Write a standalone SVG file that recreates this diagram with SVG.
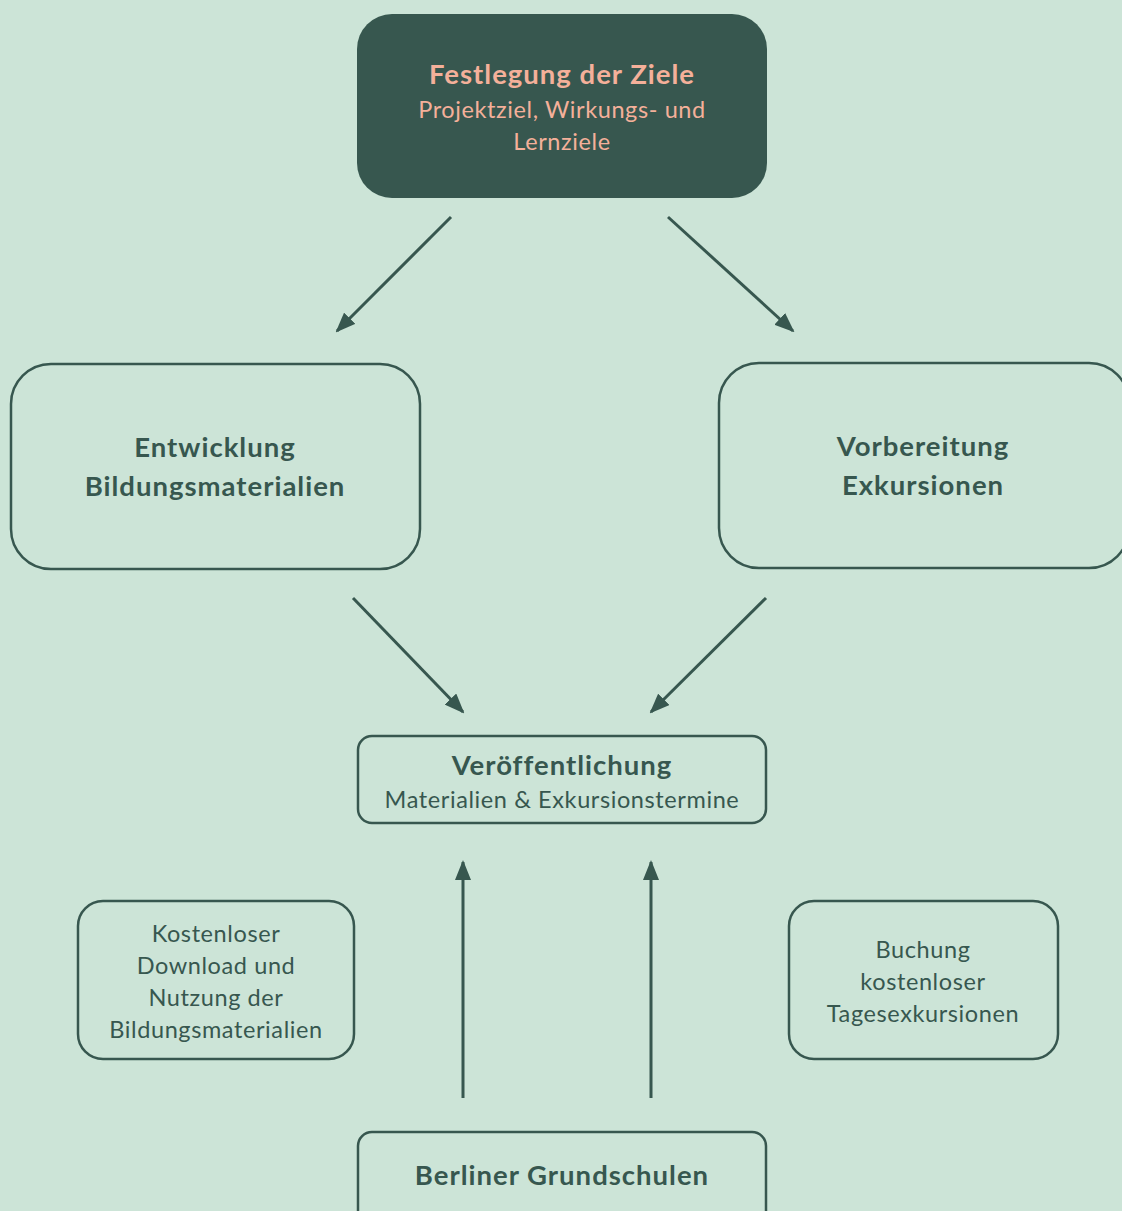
<svg xmlns="http://www.w3.org/2000/svg" width="1122" height="1211" viewBox="0 0 1122 1211">
<style>
.bg{fill:#cce4d7}
.box{fill:#cce4d7;stroke:#37574f;stroke-width:2.5}
.dark{fill:#37574f}
.t{font-family:Lato,"Open Sans","Liberation Sans",sans-serif;text-anchor:middle;fill:#37574f}
.b{font-weight:bold;font-size:27.5px;letter-spacing:1px}
.n{font-size:23.5px;letter-spacing:0.6px}
.s{fill:#f4b09a}
.c{stroke:#37574f;stroke-width:3;fill:none;marker-end:url(#ah)}
</style>
<defs>
<marker id="ah" markerUnits="userSpaceOnUse" markerWidth="20" markerHeight="16" refX="18" refY="8" orient="auto" viewBox="0 0 20 16">
<path d="M0,0 L20,8 L0,16 Z" fill="#37574f"/>
</marker>
</defs>
<rect class="bg" x="0" y="0" width="1122" height="1211"/>
<g id="connectors">
<line class="c" x1="451" y1="217" x2="337" y2="331"/>
<line class="c" x1="668" y1="217" x2="793" y2="331"/>
<line class="c" x1="353" y1="598" x2="463" y2="712"/>
<line class="c" x1="766" y1="598" x2="651" y2="712"/>
<line class="c" x1="463" y1="1098" x2="463" y2="862"/>
<line class="c" x1="651" y1="1098" x2="651" y2="862"/>
</g>
<g id="ziele">
<rect class="dark" x="357" y="14" width="410" height="184" rx="35"/>
<text class="t b s" x="562" y="84">Festlegung der Ziele</text>
<text class="t n s" x="562" y="118">Projektziel, Wirkungs- und</text>
<text class="t n s" x="562" y="150">Lernziele</text>
</g>
<g id="entwicklung">
<rect class="box" x="11" y="364" width="409" height="205" rx="40"/>
<text class="t b" x="215" y="457">Entwicklung</text>
<text class="t b" x="215" y="496">Bildungsmaterialien</text>
</g>
<g id="vorbereitung">
<rect class="box" x="719" y="363" width="410" height="205" rx="40"/>
<text class="t b" x="923" y="456">Vorbereitung</text>
<text class="t b" x="923" y="495">Exkursionen</text>
</g>
<g id="veroeffentlichung">
<rect class="box" x="358" y="736" width="408" height="87" rx="14"/>
<text class="t b" x="562" y="775">Veröffentlichung</text>
<text class="t n" x="562" y="808">Materialien &amp; Exkursionstermine</text>
</g>
<g id="download">
<rect class="box" x="78" y="901" width="276" height="158" rx="25"/>
<text class="t n" x="216" y="942">Kostenloser</text>
<text class="t n" x="216" y="974">Download und</text>
<text class="t n" x="216" y="1006">Nutzung der</text>
<text class="t n" x="216" y="1038">Bildungsmaterialien</text>
</g>
<g id="buchung">
<rect class="box" x="789" y="901" width="269" height="158" rx="25"/>
<text class="t n" x="923" y="958">Buchung</text>
<text class="t n" x="923" y="990">kostenloser</text>
<text class="t n" x="923" y="1022">Tagesexkursionen</text>
</g>
<g id="grundschulen">
<rect class="box" x="358" y="1132" width="408" height="100" rx="14"/>
<text class="t b" x="562" y="1185">Berliner Grundschulen</text>
</g>
</svg>
